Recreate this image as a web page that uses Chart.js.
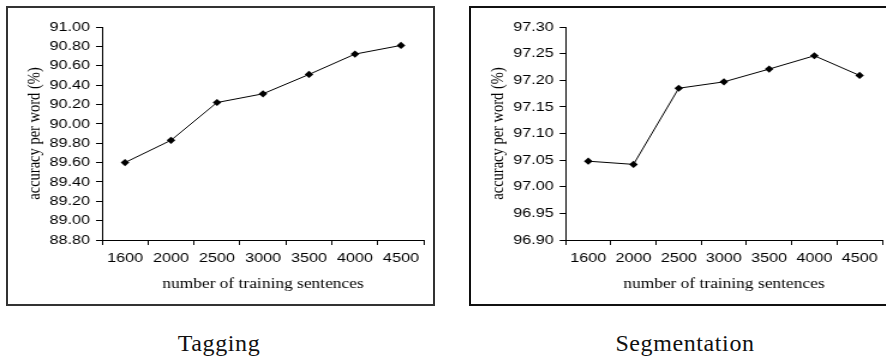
<!DOCTYPE html>
<html><head><meta charset="utf-8">
<script src="https://cdn.jsdelivr.net/npm/chart.js@4/dist/chart.umd.min.js"></script>
<style>
html,body{margin:0;padding:0;background:#fff}
body{width:886px;height:358px;overflow:hidden;position:relative}
.frame{position:absolute;box-sizing:border-box;border:2px solid #333}
.cv{position:absolute;top:0;transform:scaleX(1.2);transform-origin:0 0}
.cap{position:absolute;font-family:"Liberation Serif",serif;font-size:24px;line-height:24px;text-align:center;color:#111;letter-spacing:0.6px}
</style>
</head><body>
<div class="frame" style="left:6px;top:6px;width:429px;height:300px"></div>
<div class="frame" style="left:469px;top:6px;width:430px;height:300px;border-color:#111"></div>
<canvas id="c1" class="cv" width="362" height="300" style="left:0px"></canvas>
<canvas id="c2" class="cv" width="370" height="300" style="left:443px"></canvas>
<div class="cap" style="left:119px;top:331px;width:200px">Tagging</div>
<div class="cap" style="left:585px;top:331px;width:200px">Segmentation</div>
<script>
const categories = ['1600', '2000', '2500', '3000', '3500', '4000', '4500'];
const taggingAcc = [89.60, 89.83, 90.22, 90.31, 90.51, 90.72, 90.81];
const segmentationAcc = [97.048, 97.042, 97.185, 97.197, 97.221, 97.246, 97.209];
const taggingRange = [88.8, 91.0, 0.2];
const segmentationRange = [96.9, 97.3, 0.05];
const xTitle = 'number of training sentences';
const yTitle = 'accuracy per word (%)';

Chart.defaults.color = '#000';
Chart.defaults.devicePixelRatio = 1;

function makeChart(id, values, range, yWidth, yTitlePad, padRight) {
  return new Chart(document.getElementById(id), {
    type: 'line',
    data: {
      labels: categories,
      datasets: [{
        data: values,
        borderColor: '#000',
        borderWidth: 1,
        backgroundColor: '#000',
        pointStyle: 'rectRot',
        pointRadius: 3.6,
        pointBorderWidth: 0,
        tension: 0,
        fill: false
      }]
    },
    options: {
      responsive: false,
      animation: false,
      events: [],
      layout: {padding: {left: 0, right: padRight, top: 27, bottom: 0}},
      plugins: {legend: {display: false}, tooltip: {enabled: false}, title: {display: false}},
      scales: {
        x: {
          type: 'category',
          offset: true,
          grid: {offset: true, drawOnChartArea: false, drawTicks: true, tickLength: 5, color: '#000', lineWidth: 1},
          border: {display: true, color: '#000', width: 1},
          ticks: {font: {family: '"Liberation Sans", Arial, sans-serif', size: 13.5}, padding: 5, color: '#000', maxRotation: 0, autoSkip: false},
          title: {display: true, text: xTitle, font: {family: '"Liberation Serif", serif', size: 14.5}, padding: {top: 0, bottom: 7.3}, color: '#000'},
          afterFit: (a) => { a.height = 60; }
        },
        y: {
          min: range[0],
          max: range[1],
          grid: {drawOnChartArea: false, drawTicks: true, tickLength: 5, color: '#000', lineWidth: 1},
          border: {display: true, color: '#000', width: 1},
          ticks: {stepSize: range[2], font: {family: '"Liberation Sans", Arial, sans-serif', size: 13.5}, padding: 5, color: '#000',
                  callback: (v) => Number(v).toFixed(2)},
          title: {display: true, text: yTitle, font: {family: '"Liberation Serif", serif', size: 14.5}, padding: {top: yTitlePad, bottom: 0}, color: '#000'},
          afterFit: (a) => { a.width = yWidth; }
        }
      }
    }
  });
}

makeChart('c1', taggingAcc, taggingRange, 85, 20.3, 8.7);
makeChart('c2', segmentationAcc, segmentationRange, 102.2, 37.1, 0.8);
</script>
</body></html>
